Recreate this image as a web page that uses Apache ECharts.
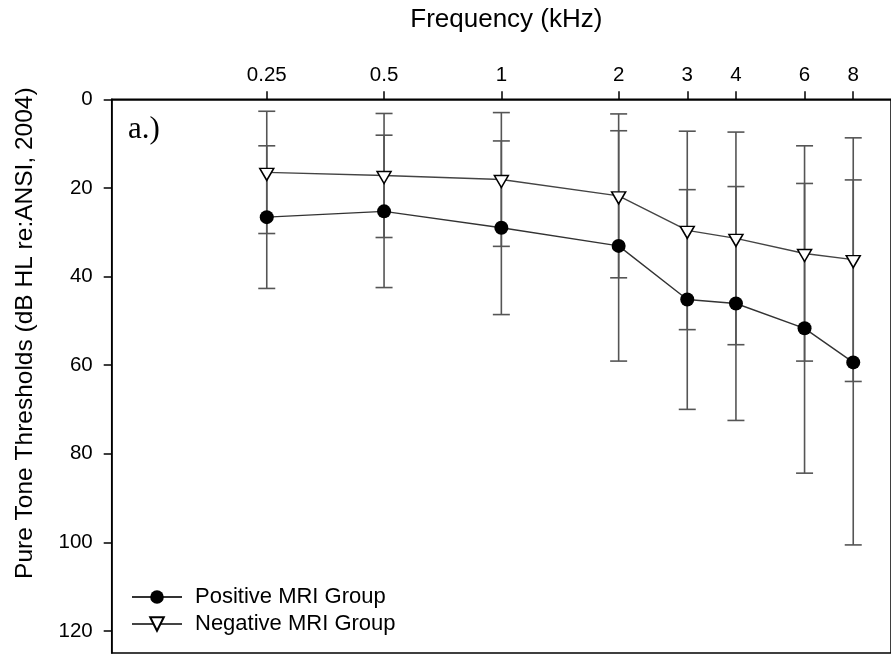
<!DOCTYPE html>
<html>
<head>
<meta charset="utf-8">
<script src="https://cdn.jsdelivr.net/npm/echarts@6/dist/echarts.min.js"></script>
<style>
  html, body { margin: 0; padding: 0; background: #fff; }
  #chart { width: 891px; height: 655px; }
</style>
</head>
<body>
<div id="chart"></div>
<script>
// ---- Data ----
const freqs = [0.25, 0.5, 1, 2, 3, 4, 6, 8];               // kHz
const freqTickLabels = [0.25, 0.5, 1, 2, 3, 4, 6, 8];
const yTickValues = [0, 20, 40, 60, 80, 100, 120];
const posMean = [26.6, 25.3, 29.0, 33.1, 45.2, 46.1, 51.7, 59.4];
const posSD   = [16.1, 17.2, 19.6, 26.0, 24.8, 26.4, 32.7, 41.2];
const negMean = [16.5, 17.2, 18.1, 21.8, 29.6, 31.4, 34.8, 36.2];
const negSD   = [13.8, 14.0, 15.1, 18.5, 22.4, 24.0, 24.3, 27.5];
const posName = 'Positive MRI Group';
const negName = 'Negative MRI Group';

const FONT = '"Liberation Sans", Arial, Helvetica, sans-serif';

function errData(mean, sd) {
  return freqs.map((f, i) => [f, mean[i] - sd[i], mean[i] + sd[i]]);
}
function errRender(params, api) {
  const x = api.value(0);
  const lo = api.coord([x, api.value(1)]);
  const hi = api.coord([x, api.value(2)]);
  const hw = 8.5;
  const st = { stroke: '#555', lineWidth: 1.6 };
  return {
    type: 'group',
    children: [
      { type: 'line', shape: { x1: lo[0], y1: lo[1], x2: hi[0], y2: hi[1] }, style: st },
      { type: 'line', shape: { x1: lo[0] - hw, y1: lo[1], x2: lo[0] + hw, y2: lo[1] }, style: st },
      { type: 'line', shape: { x1: hi[0] - hw, y1: hi[1], x2: hi[0] + hw, y2: hi[1] }, style: st }
    ]
  };
}

const chart = echarts.init(document.getElementById('chart'), null, { renderer: 'canvas' });
chart.setOption({
  animation: false,
  backgroundColor: '#fff',
  grid: {
    left: 111.7, top: 99.3, right: -12, bottom: 2,
    show: true, borderColor: '#000', borderWidth: 1.5, backgroundColor: 'transparent'
  },
  xAxis: {
    type: 'log', logBase: 10, min: 0.1, max: 10, position: 'top',
    name: 'Frequency (kHz)', nameLocation: 'middle', nameGap: 66,
    nameTextStyle: { fontFamily: FONT, fontSize: 26, color: '#000', padding: [0, 0, 0, 10] },
    axisLine: { show: true, lineStyle: { color: '#000', width: 1.5 } },
    axisTick: { show: true, inside: false, length: 8, customValues: freqTickLabels,
                lineStyle: { color: '#000', width: 1.5 } },
    axisLabel: { show: true, customValues: freqTickLabels, margin: 13,
                 fontFamily: FONT, fontSize: 20.5, color: '#000',
                 formatter: v => String(v) },
    minorTick: { show: false },
    splitLine: { show: false }
  },
  yAxis: {
    type: 'value', inverse: true, min: 0, max: 125,
    name: 'Pure Tone Thresholds (dB HL re:ANSI, 2004)',
    nameLocation: 'middle', nameRotate: 90, nameGap: 74,
    nameTextStyle: { fontFamily: FONT, fontSize: 24.5, color: '#000', padding: [0, 0, 0, 86] },
    axisLine: { show: true, lineStyle: { color: '#000', width: 1.5 } },
    axisTick: { show: true, length: 8, customValues: yTickValues,
                lineStyle: { color: '#000', width: 1.5 } },
    axisLabel: { customValues: yTickValues, margin: 19,
                 fontFamily: FONT, fontSize: 20.5, color: '#000' },
    splitLine: { show: false }
  },
  legend: {
    orient: 'vertical', left: 126, top: 581,
    itemWidth: 50, itemHeight: 17, itemGap: 5,
    data: [posName, negName],
    textStyle: { fontFamily: FONT, fontSize: 22, color: '#000', lineHeight: 22,
                 padding: [0, 0, 0, 8] }
  },
  graphic: [{
    type: 'text', x: 128, y: 130,
    style: { text: 'a.)', font: '31px "Liberation Serif", "Times New Roman", serif',
             fill: '#000', verticalAlign: 'middle', align: 'left' }
  }],
  series: [
    { type: 'custom', name: 'errPos', renderItem: errRender, data: errData(posMean, posSD),
      encode: { x: 0, y: [1, 2] }, z: 1, silent: true },
    { type: 'custom', name: 'errNeg', renderItem: errRender, data: errData(negMean, negSD),
      encode: { x: 0, y: [1, 2] }, z: 1, silent: true },
    { type: 'line', name: posName, data: freqs.map((f, i) => [f, posMean[i]]),
      symbol: 'circle', symbolSize: 14,
      itemStyle: { color: '#000', borderColor: '#000', borderWidth: 0 },
      lineStyle: { color: '#333', width: 1.4 }, z: 3 },
    { type: 'line', name: negName, data: freqs.map((f, i) => [f, negMean[i]]),
      symbol: 'triangle', symbolSize: [14, 12], symbolRotate: 180, symbolOffset: [0, 2],
      itemStyle: { color: '#fff', borderColor: '#000', borderWidth: 1.5 },
      lineStyle: { color: '#444', width: 1.4 }, z: 3 }
  ]
});
</script>
</body>
</html>
